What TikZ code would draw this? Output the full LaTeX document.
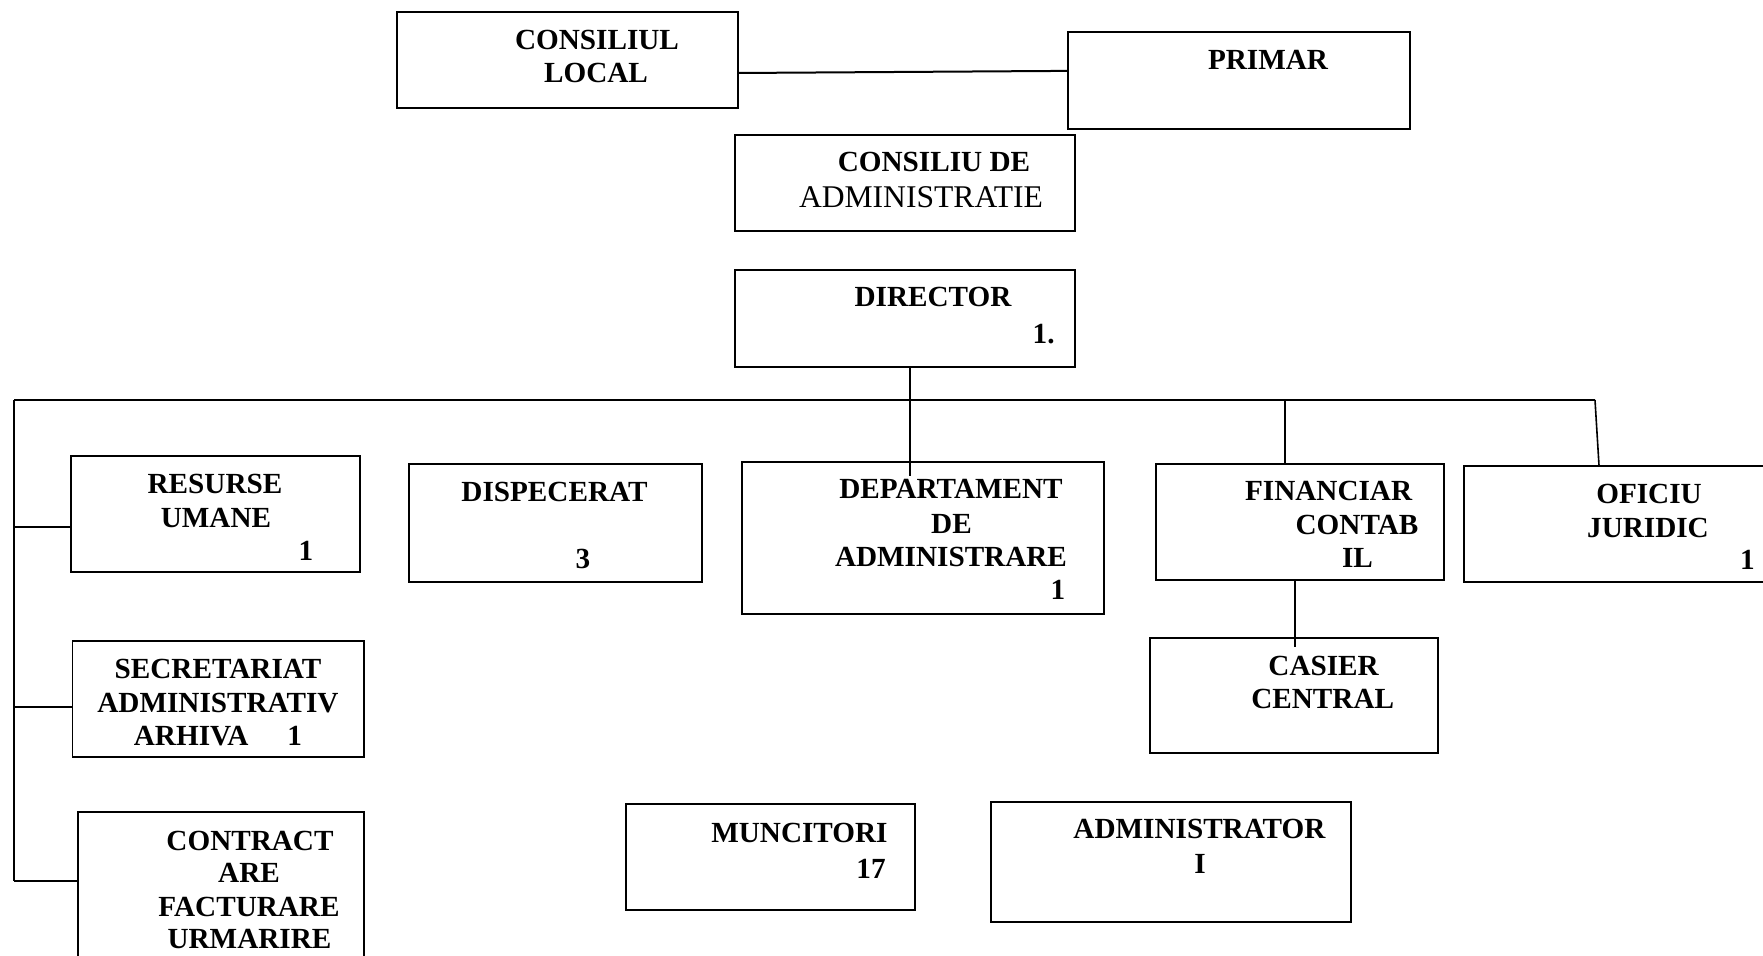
\documentclass[tikz,border=0pt]{standalone}
\usepackage{fontspec}
\setmainfont{Liberation Serif}
\usetikzlibrary{fit}
\tikzset{
  box/.style={draw, line width=0.65pt, inner sep=0pt},
  conn/.style={draw, line width=0.8pt},
  bus/.style={draw, line width=1pt},
  lbl/.style={inner sep=0pt, anchor=base, font=\fontsize{14.6pt}{17pt}\selectfont\bfseries},
  lblr/.style={lbl, anchor=base east},
  reg/.style={inner sep=0pt, anchor=base, font=\fontsize{15.8pt}{18pt}\selectfont},
}
\begin{document}
\begin{tikzpicture}[x=0.5pt,y=-0.5pt]
\useasboundingbox (0,0) rectangle (1763,956);
\clip (0,0) rectangle (1763,956);
% boxes
\node[box, fit={(397,12)(738,108)}] (cl) {};
\node[box, fit={(1068,32)(1410,129)}] (pr) {};
\node[box, fit={(735,135)(1075,231)}] (ca) {};
\node[box, fit={(735,270)(1075,367)}] (dir) {};
\node[box, fit={(71,456)(360,572)}] (rh) {};
\node[box, fit={(409,464)(702,582)}] (disp) {};
\node[box, fit={(72.5,641)(364,757)}] (sec) {};
\node[box, fit={(78,812)(364,990)}] (con) {};
\node[box, fit={(742,462)(1104,614)}] (dep) {};
\node[box, fit={(1156,464)(1444,580)}] (fin) {};
\node[box, fit={(1150,638)(1438,753)}] (cas) {};
\node[box, fit={(1464,466)(1790,582)}] (ofi) {};
\node[box, fit={(626,804)(915,910)}] (mun) {};
\node[box, fit={(991,802)(1351,922)}] (adm) {};
% texts
\node[lbl] (t1) at (597,50) {CONSILIUL};
\node[lbl] (t2) at (596,83) {LOCAL};
\node[lbl] (t3) at (1268,70) {PRIMAR};
\node[lbl] (t4) at (934,172) {CONSILIU DE};
\node[reg] (t5) at (921,208) {ADMINISTRATIE};
\node[lbl] (t6) at (933,307) {DIRECTOR};
\node[lblr] (t7) at (1055,344) {1.};
\node[lbl] (t8) at (215,494) {RESURSE};
\node[lbl] (t9) at (216,528) {UMANE};
\node[lbl] (t10) at (306,561) {1};
\node[lbl] (t11) at (554.5,502) {DISPECERAT};
\node[lbl] (t12) at (583,569) {3};
\node[lbl] (t13) at (218,679) {SECRETARIAT};
\node[lbl] (t14) at (218,712.5) {ADMINISTRATIV};
\node[lbl] (t15) at (218,745.5) {ARHIVA\hspace{19.5pt}1};
\node[lbl] (t16) at (250,850) {CONTRACT};
\node[lbl] (t17) at (249,883) {ARE};
\node[lbl] (t18) at (249,916) {FACTURARE};
\node[lbl] (t19) at (249.5,949) {URMARIRE};
\node[lbl] (t20) at (951,499) {DEPARTAMENT};
\node[lbl] (t21) at (951.5,534) {DE};
\node[lbl] (t22) at (951,567) {ADMINISTRARE};
\node[lbl] (t23) at (1058,600) {1};
\node[lbl] (t24) at (1328.6,501) {FINANCIAR};
\node[lbl] (t25) at (1357,535) {CONTAB};
\node[lbl] (t26) at (1357.5,568) {IL};
\node[lbl] (t27) at (1323.6,676) {CASIER};
\node[lbl] (t28) at (1322.7,709) {CENTRAL};
\node[lbl] (t29) at (1649,504) {OFICIU};
\node[lbl] (t30) at (1648,538) {JURIDIC};
\node[lbl] (t31) at (1747.5,570) {1};
\node[lblr] (t32) at (888,842) {MUNCITORI};
\node[lblr] (t33) at (886,878) {17};
\node[lbl] (t34) at (1199.5,839) {ADMINISTRATOR};
\node[lbl] (t35) at (1200,873) {I};
% connectors
\draw[bus] ([yshift=-6.5pt]cl.east) -- ([yshift=4.8pt]pr.west);
\coordinate (dend) at (910,476);
\draw[conn] (dir.south -| dend) -- (dend);
\coordinate (busL) at (14,400);
\coordinate (busR) at (1595,400);
\draw[bus] (busL) -- (busR);
\coordinate (vB) at (14,881);
\draw[bus] (busL) -- (vB);
\coordinate (s1) at (14,527);
\coordinate (s2) at (14,707);
\draw[conn] (s1) -- (s1 -| rh.west);
\draw[conn] (s2) -- (s2 -| sec.west);
\draw[conn] (vB) -- (vB -| con.west);
\coordinate (f1) at (1285,400);
\draw[conn] (f1) -- (f1 |- fin.north);
\coordinate (c1) at (1295,647);
\draw[conn] (c1 |- fin.south) -- (c1);
\coordinate (o1) at (1599,466);
\draw[conn] (busR) -- (o1 |- ofi.north);
\end{tikzpicture}
\end{document}
